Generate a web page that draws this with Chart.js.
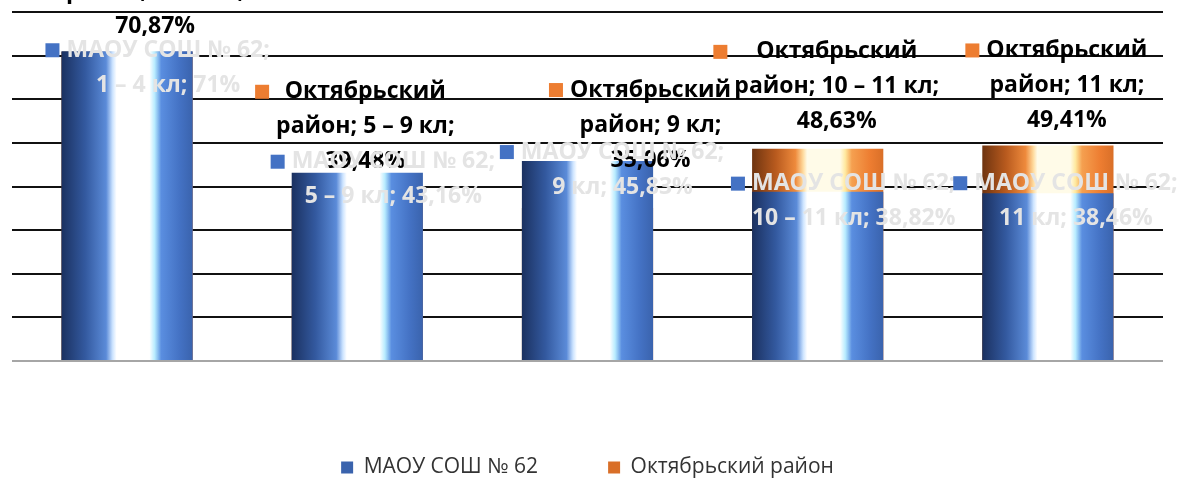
<!DOCTYPE html>
<html>
<head>
<meta charset="utf-8">
<script src="https://cdn.jsdelivr.net/npm/chart.js@4.4.0/dist/chart.umd.min.js"></script>
<style>
  html, body { margin: 0; padding: 0; background: #fff; }
  #wrap { width: 1189px; height: 481px; }
</style>
</head>
<body>
<div id="wrap"><canvas id="chart"></canvas></div>
<script>
// data
const categories = ['1 – 4 кл', '5 – 9 кл', '9 кл', '10 – 11 кл', '11 кл'];
const schoolName = 'МАОУ СОШ № 62';
const districtName = 'Октябрьский район';
const schoolValues = [71, 43.16, 45.83, 38.82, 38.46];
const districtValues = [70.87, 39.48, 35.06, 48.63, 49.41];
const yTicks = [0, 10, 20, 30, 40, 50, 60, 70, 80];

// label placement relative to bar top / centre (Excel moved them around by hand)
const schoolLabelOffsets = [[41, -1], [36, -11], [35, -9], [36, -8], [28, -10]];
const districtLabelOffsets = [[28, -95], [8, -97], [63, -118], [19, -97], [19, -95]];

const BAR_PCT = 0.57;
const LABEL_FONT = 'bold 23px "Open Sans"';
const LINE_H = 35;

const blueStops = [
  [0, '#1b3160'], [0.18, '#33599f'], [0.34, '#5b8bd8'], [0.39, '#cde4ff'],
  [0.42, '#ffffff'], [0.67, '#ffffff'], [0.71, '#b8ecff'], [0.76, '#5a8ee0'],
  [0.9, '#4472c4'], [1, '#3a63ad']
];
const orangeStops = [
  [0, '#6e3410'], [0.18, '#b85a1e'], [0.33, '#ee8a3c'], [0.39, '#ffdca0'],
  [0.42, '#fffbe8'], [0.67, '#fffbe8'], [0.71, '#ffe9a0'], [0.76, '#f5a050'],
  [0.9, '#ed7d31'], [1, '#d96f28']
];

const fmt = (v) => String(v).replace('.', ',') + '%';

function barFill(stops, solid) {
  return (ctx) => {
    if (ctx.type !== 'data') return solid;
    const chart = ctx.chart;
    const xs = chart.scales.x;
    if (!chart.chartArea || !xs) return solid;
    const cx = xs.getPixelForValue(ctx.dataIndex);
    const w = xs.width / categories.length * BAR_PCT;
    const g = chart.ctx.createLinearGradient(cx - w / 2, 0, cx + w / 2, 0);
    stops.forEach(([o, c]) => g.addColorStop(o, c));
    return g;
  };
}

const labelSets = [
  {
    offsets: schoolLabelOffsets,
    color: '#e4e4e4',
    marker: '#4472c4',
    lines: (i, v) => [schoolName + ';', categories[i] + '; ' + fmt(v)]
  },
  {
    offsets: districtLabelOffsets,
    color: '#000000',
    marker: '#ed7d31',
    lines: (i, v) => {
      const w = districtName.split(' ');
      return [w[0], w[1] + '; ' + categories[i] + ';', fmt(v)];
    }
  }
];

const excelLabels = {
  id: 'excelLabels',
  afterDatasetsDraw(chart) {
    const ctx = chart.ctx;
    ctx.save();
    ctx.font = LABEL_FONT;
    ctx.textAlign = 'center';
    ctx.textBaseline = 'middle';
    // orange labels first, blue on top (as in the original)
    [1, 0].forEach((di) => {
      const set = labelSets[di];
      const meta = chart.getDatasetMeta(di);
      meta.data.forEach((bar, i) => {
        const v = chart.data.datasets[di].data[i];
        const lines = set.lines(i, v);
        const [dx, dy] = set.offsets[i];
        const x = bar.x + dx;
        const y0 = bar.y + dy;
        const maxW = Math.max(...lines.map((l) => ctx.measureText(l).width));
        ctx.fillStyle = set.marker;
        ctx.fillRect(x - maxW / 2 - 21, y0 - 7, 14, 14);
        ctx.fillStyle = set.color;
        lines.forEach((l, k) => ctx.fillText(l, x, y0 + k * LINE_H));
      });
    });
    ctx.restore();
  }
};

new Chart(document.getElementById('chart'), {
  type: 'bar',
  data: {
    labels: categories,
    datasets: [
      {
        label: schoolName,
        data: schoolValues,
        grouped: false,
        backgroundColor: barFill(blueStops, '#4472c4'),
        borderWidth: 0,
        barPercentage: BAR_PCT,
        categoryPercentage: 1
      },
      {
        label: districtName,
        data: districtValues,
        grouped: false,
        backgroundColor: barFill(orangeStops, '#ed7d31'),
        borderWidth: 0,
        barPercentage: BAR_PCT,
        categoryPercentage: 1
      }
    ]
  },
  options: {
    responsive: true,
    maintainAspectRatio: false,
    animation: false,
    layout: { padding: { left: 12, right: 26, top: 12, bottom: -7 } },
    scales: {
      x: {
        ticks: { display: false },
        grid: { display: false },
        border: { display: false },
        afterFit: (scale) => { scale.height = 26; }
      },
      y: {
        min: 0,
        max: 80,
        afterBuildTicks: (scale) => { scale.ticks = yTicks.map((v) => ({ value: v })); },
        afterFit: (scale) => { scale.width = 0; },
        ticks: { display: false },
        border: { display: false },
        grid: {
          drawTicks: false,
          lineWidth: 2,
          color: (c) => (c.tick && c.tick.value === 0 ? '#a6a6a6' : '#111111')
        }
      }
    },
    plugins: {
      legend: {
        position: 'bottom',
        labels: {
          boxWidth: 12,
          boxHeight: 12,
          padding: 70,
          color: '#333333',
          font: { family: '"Open Sans"', size: 21 }
        }
      },
      tooltip: { enabled: false }
    }
  },
  plugins: [excelLabels]
});
</script>
</body>
</html>
